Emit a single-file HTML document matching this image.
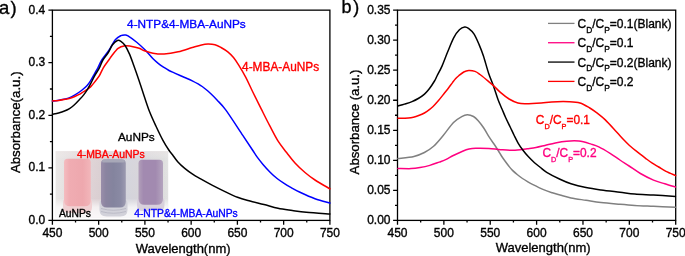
<!DOCTYPE html>
<html><head><meta charset="utf-8"><style>
html,body{margin:0;padding:0;background:#fff;}
body{width:685px;height:256px;overflow:hidden;}
svg{display:block;will-change:transform;}
text{font-family:"Liberation Sans",sans-serif;stroke-width:0.35px;stroke:#000;}
</style></head><body>
<svg width="685" height="256" viewBox="0 0 685 256">
<defs>
<filter id="blur1" x="-10%" y="-10%" width="120%" height="120%"><feGaussianBlur stdDeviation="0.55"/></filter>
<linearGradient id="bg" x1="55.6" y1="0" x2="168.2" y2="0" gradientUnits="userSpaceOnUse">
<stop offset="0" stop-color="#e8e6e4"/><stop offset="0.07" stop-color="#e4e0e0"/><stop offset="0.32" stop-color="#dccfd2"/><stop offset="0.39" stop-color="#d8cccf"/><stop offset="0.64" stop-color="#d2d2da"/><stop offset="0.72" stop-color="#d4d2d8"/><stop offset="0.96" stop-color="#dcdcdc"/><stop offset="1" stop-color="#e0e0e0"/>
</linearGradient>
<linearGradient id="bgv" x1="0" y1="151" x2="0" y2="217" gradientUnits="userSpaceOnUse">
<stop offset="0" stop-color="#f0e8e8" stop-opacity="0.5"/><stop offset="0.12" stop-color="#ffffff" stop-opacity="0.1"/><stop offset="0.72" stop-color="#ffffff" stop-opacity="0.05"/><stop offset="0.85" stop-color="#ffffff" stop-opacity="0.7"/><stop offset="1" stop-color="#ffffff" stop-opacity="0.85"/>
</linearGradient>
<linearGradient id="pink" x1="0" y1="0" x2="1" y2="0">
<stop offset="0" stop-color="#f4bcc0"/><stop offset="0.2" stop-color="#f0acb2"/><stop offset="0.7" stop-color="#eea8ae"/><stop offset="1" stop-color="#f2b6ba"/>
</linearGradient>
<linearGradient id="grayv" x1="0" y1="0" x2="1" y2="0">
<stop offset="0" stop-color="#9a8eaa"/><stop offset="0.2" stop-color="#8a84a0"/><stop offset="0.5" stop-color="#84849e"/><stop offset="0.8" stop-color="#8a8aa4"/><stop offset="1" stop-color="#9c9ab0"/>
</linearGradient>
<linearGradient id="purp" x1="0" y1="0" x2="1" y2="0">
<stop offset="0" stop-color="#b2a0ba"/><stop offset="0.2" stop-color="#a28ab0"/><stop offset="0.7" stop-color="#a28ab0"/><stop offset="1" stop-color="#b4a4be"/>
</linearGradient>
</defs>

<rect x="55.6" y="151.2" width="112.6" height="66" fill="url(#bg)"/>
<rect x="55.6" y="151.2" width="112.6" height="66" fill="url(#bgv)"/>
<g filter="url(#blur1)">
<path d="M63.00,202.00 Q63.00,199.00 66.00,199.00 H89.00 Q92.00,199.00 92.00,202.00 V207.00 Q92.00,213.00 86.00,213.00 H69.00 Q63.00,213.00 63.00,207.00 Z" fill="#f0d0d2"/>
<path d="M64.00,162.30 Q64.00,158.80 67.50,158.80 H87.30 Q90.80,158.80 90.80,162.30 V200.30 Q90.80,206.30 84.80,206.30 H70.00 Q64.00,206.30 64.00,200.30 Z" fill="url(#pink)"/>
<path d="M99.50,203.00 Q99.50,200.00 102.50,200.00 H124.50 Q127.50,200.00 127.50,203.00 V209.50 Q127.50,216.50 120.50,216.50 H106.50 Q99.50,216.50 99.50,209.50 Z" fill="#d2d2da"/>
<path d="M101,208.5 Q113.5,212 126,208.5 M101,211.5 Q113.5,215 126,211.5" stroke="#b8b8c4" stroke-width="0.9" fill="none"/>
<path d="M101.00,163.50 Q101.00,159.50 105.00,159.50 H121.80 Q125.80,159.50 125.80,163.50 V201.50 Q125.80,207.50 119.80,207.50 H107.00 Q101.00,207.50 101.00,201.50 Z" fill="url(#grayv)"/>
<rect x="102" y="159.5" width="22.8" height="3" rx="1.5" fill="#a8a8b8"/>
<path d="M137.00,201.00 Q137.00,198.00 140.00,198.00 H161.50 Q164.50,198.00 164.50,201.00 V205.00 Q164.50,211.00 158.50,211.00 H143.00 Q137.00,211.00 137.00,205.00 Z" fill="#d8d0dc"/>
<path d="M138.50,163.30 Q138.50,159.80 142.00,159.80 H159.50 Q163.00,159.80 163.00,163.30 V198.80 Q163.00,204.80 157.00,204.80 H144.50 Q138.50,204.80 138.50,198.80 Z" fill="url(#purp)"/>
</g>
<rect x="52.40" y="10.15" width="277.50" height="210.25" fill="none" stroke="#000" stroke-width="1.30"/>
<rect x="397.50" y="10.15" width="278.20" height="210.25" fill="none" stroke="#000" stroke-width="1.30"/>
<path d="M52.40,220.40v4.30M397.50,220.40v4.30M75.53,220.40v2.20M420.68,220.40v2.20M98.65,220.40v4.30M443.87,220.40v4.30M121.78,220.40v2.20M467.05,220.40v2.20M144.90,220.40v4.30M490.23,220.40v4.30M168.03,220.40v2.20M513.42,220.40v2.20M191.15,220.40v4.30M536.60,220.40v4.30M214.28,220.40v2.20M559.78,220.40v2.20M237.40,220.40v4.30M582.97,220.40v4.30M260.52,220.40v2.20M606.15,220.40v2.20M283.65,220.40v4.30M629.33,220.40v4.30M306.77,220.40v2.20M652.52,220.40v2.20M329.90,220.40v4.30M675.70,220.40v4.30M52.40,220.40h-4.00M52.40,194.12h-2.50M52.40,167.84h-4.00M52.40,141.56h-2.50M52.40,115.28h-4.00M52.40,88.99h-2.50M52.40,62.71h-4.00M52.40,36.43h-2.50M52.40,10.15h-4.00M397.50,220.40h-4.40M397.50,205.38h-2.50M397.50,190.36h-4.40M397.50,175.35h-2.50M397.50,160.33h-4.40M397.50,145.31h-2.50M397.50,130.29h-4.40M397.50,115.27h-2.50M397.50,100.26h-4.40M397.50,85.24h-2.50M397.50,70.22h-4.40M397.50,55.20h-2.50M397.50,40.19h-4.40M397.50,25.17h-2.50M397.50,10.15h-4.40" stroke="#000" stroke-width="1.30" fill="none"/>
<text x="45.3" y="224.00" font-size="12" text-anchor="end">0.0</text><text x="45.3" y="171.44" font-size="12" text-anchor="end">0.1</text><text x="45.3" y="118.88" font-size="12" text-anchor="end">0.2</text><text x="45.3" y="66.31" font-size="12" text-anchor="end">0.3</text><text x="45.3" y="13.75" font-size="12" text-anchor="end">0.4</text><text x="390.5" y="224.00" font-size="12" text-anchor="end">0.00</text><text x="390.5" y="193.96" font-size="12" text-anchor="end">0.05</text><text x="390.5" y="163.93" font-size="12" text-anchor="end">0.10</text><text x="390.5" y="133.89" font-size="12" text-anchor="end">0.15</text><text x="390.5" y="103.86" font-size="12" text-anchor="end">0.20</text><text x="390.5" y="73.82" font-size="12" text-anchor="end">0.25</text><text x="390.5" y="43.79" font-size="12" text-anchor="end">0.30</text><text x="390.5" y="13.75" font-size="12" text-anchor="end">0.35</text><text x="52.40" y="236.5" font-size="12" text-anchor="middle">450</text><text x="397.50" y="236.5" font-size="12" text-anchor="middle">450</text><text x="98.65" y="236.5" font-size="12" text-anchor="middle">500</text><text x="443.87" y="236.5" font-size="12" text-anchor="middle">500</text><text x="144.90" y="236.5" font-size="12" text-anchor="middle">550</text><text x="490.23" y="236.5" font-size="12" text-anchor="middle">550</text><text x="191.15" y="236.5" font-size="12" text-anchor="middle">600</text><text x="536.60" y="236.5" font-size="12" text-anchor="middle">600</text><text x="237.40" y="236.5" font-size="12" text-anchor="middle">650</text><text x="582.97" y="236.5" font-size="12" text-anchor="middle">650</text><text x="283.65" y="236.5" font-size="12" text-anchor="middle">700</text><text x="629.33" y="236.5" font-size="12" text-anchor="middle">700</text><text x="329.90" y="236.5" font-size="12" text-anchor="middle">750</text><text x="675.70" y="236.5" font-size="12" text-anchor="middle">750</text>
<text x="135.7" y="252.8" font-size="13">Wavelength(nm)</text>
<text x="495.7" y="252.4" font-size="13">Wavelength(nm)</text>
<text transform="translate(20.25,173.1) rotate(-90)" font-size="13.25">Absorbance(a.u.)</text>
<text transform="translate(359.25,174.4) rotate(-90)" font-size="13.2">Absorbance (a.u.)</text>
<text x="-0.9" y="14.1" font-size="18.5" letter-spacing="1.1">a)</text>
<text x="341.6" y="13.4" font-size="18" letter-spacing="1.6">b)</text>
<path d="M52.50,101.10 C53.75,100.92 57.35,100.50 60.00,100.00 C62.65,99.50 65.90,98.95 68.40,98.10 C70.90,97.25 72.82,96.17 75.00,94.90 C77.18,93.63 79.52,92.02 81.50,90.50 C83.48,88.98 85.35,87.50 86.90,85.80 C88.45,84.10 89.49,82.38 90.80,80.30 C92.11,78.22 93.57,75.38 94.75,73.30 C95.93,71.22 96.73,70.02 97.90,67.80 C99.08,65.58 99.98,62.88 101.80,60.00 C103.62,57.12 106.55,53.87 108.80,50.50 C111.05,47.13 113.28,42.28 115.30,39.80 C117.32,37.32 119.27,36.42 120.90,35.60 C122.53,34.78 123.92,34.85 125.10,34.90 C126.28,34.95 126.12,34.72 128.00,35.90 C129.88,37.08 133.53,39.65 136.40,42.00 C139.27,44.35 142.47,47.25 145.20,50.00 C147.93,52.75 150.58,56.23 152.80,58.50 C155.02,60.77 156.67,62.13 158.50,63.60 C160.33,65.07 162.05,66.15 163.80,67.30 C165.55,68.45 167.18,69.53 169.00,70.50 C170.82,71.47 172.18,71.97 174.70,73.10 C177.22,74.23 181.17,76.00 184.10,77.30 C187.03,78.60 189.28,79.37 192.30,80.90 C195.32,82.43 199.15,84.40 202.20,86.50 C205.25,88.60 208.13,91.25 210.60,93.50 C213.07,95.75 214.45,97.23 217.00,100.00 C219.55,102.77 221.60,104.20 225.90,110.10 C230.20,116.00 238.37,128.75 242.80,135.40 C247.23,142.05 250.07,146.33 252.50,150.00 C254.93,153.67 255.65,155.00 257.40,157.40 C259.15,159.80 260.88,161.93 263.00,164.40 C265.12,166.87 267.75,169.85 270.10,172.20 C272.45,174.55 274.77,176.63 277.10,178.50 C279.43,180.37 281.75,181.88 284.10,183.40 C286.45,184.92 288.55,186.12 291.20,187.60 C293.85,189.08 296.03,190.44 300.00,192.30 C303.97,194.16 310.02,196.97 315.00,198.75 C319.98,200.53 327.42,202.29 329.90,203.00" fill="none" stroke="#0000ff" stroke-width="1.50" stroke-linejoin="round" stroke-linecap="round"/>
<path d="M52.50,100.90 C53.52,100.82 56.50,100.67 58.60,100.40 C60.70,100.13 62.92,99.75 65.10,99.30 C67.28,98.85 69.52,98.43 71.70,97.70 C73.88,96.97 76.20,95.92 78.20,94.90 C80.20,93.88 82.23,92.48 83.70,91.60 C85.17,90.72 85.82,90.43 87.00,89.60 C88.18,88.77 89.51,87.88 90.80,86.60 C92.09,85.32 93.32,83.73 94.75,81.90 C96.18,80.07 97.98,77.95 99.40,75.60 C100.83,73.25 101.73,70.40 103.30,67.80 C104.87,65.20 107.38,62.00 108.80,60.00 C110.22,58.00 110.25,57.75 111.80,55.80 C113.35,53.85 115.88,49.97 118.10,48.30 C120.32,46.62 122.98,46.10 125.10,45.75 C127.22,45.40 128.45,45.78 130.80,46.20 C133.15,46.62 136.93,47.53 139.20,48.30 C141.47,49.07 142.12,49.98 144.40,50.80 C146.68,51.62 149.62,52.67 152.90,53.20 C156.18,53.73 159.88,54.23 164.10,54.00 C168.32,53.77 173.50,52.88 178.20,51.80 C182.90,50.72 188.42,48.65 192.30,47.50 C196.18,46.35 198.88,45.47 201.50,44.90 C204.12,44.33 205.75,44.12 208.00,44.10 C210.25,44.08 212.83,44.23 215.00,44.80 C217.17,45.37 218.87,46.32 221.00,47.50 C223.13,48.68 225.72,50.22 227.80,51.90 C229.88,53.58 231.68,55.38 233.50,57.60 C235.32,59.82 236.65,61.90 238.70,65.20 C240.75,68.50 243.45,72.93 245.80,77.40 C248.15,81.87 250.23,86.75 252.80,92.00 C255.37,97.25 258.38,103.28 261.20,108.90 C264.02,114.52 266.88,120.32 269.70,125.70 C272.52,131.08 275.28,136.73 278.10,141.20 C280.92,145.67 283.78,148.87 286.60,152.50 C289.42,156.13 291.93,159.67 295.00,163.00 C298.07,166.33 301.67,169.67 305.00,172.50 C308.33,175.33 310.85,177.29 315.00,180.00 C319.15,182.71 327.42,187.29 329.90,188.75" fill="none" stroke="#ff0000" stroke-width="1.50" stroke-linejoin="round" stroke-linecap="round"/>
<path d="M52.50,114.30 C53.52,114.08 56.50,113.58 58.60,113.00 C60.70,112.42 63.28,111.53 65.10,110.80 C66.92,110.07 68.03,109.52 69.50,108.60 C70.97,107.68 72.27,106.77 73.90,105.30 C75.53,103.83 77.67,101.53 79.30,99.80 C80.93,98.07 82.42,96.50 83.70,94.90 C84.98,93.30 85.82,92.12 87.00,90.20 C88.18,88.28 89.51,85.83 90.80,83.40 C92.09,80.97 93.32,78.20 94.75,75.60 C96.18,73.00 98.04,70.40 99.40,67.80 C100.76,65.20 101.42,62.55 102.90,60.00 C104.38,57.45 106.70,55.03 108.30,52.50 C109.90,49.97 110.98,46.80 112.50,44.80 C114.02,42.80 116.00,41.08 117.40,40.50 C118.80,39.92 119.62,40.47 120.90,41.30 C122.18,42.13 123.68,43.40 125.10,45.50 C126.52,47.60 127.98,50.65 129.40,53.90 C130.82,57.15 131.97,60.48 133.60,65.00 C135.23,69.52 137.33,75.50 139.20,81.00 C141.07,86.50 143.05,92.83 144.80,98.00 C146.55,103.17 147.85,107.33 149.70,112.00 C151.55,116.67 153.72,121.32 155.90,126.00 C158.08,130.68 160.65,136.10 162.80,140.10 C164.95,144.10 167.18,147.57 168.80,150.00 C170.42,152.43 171.02,152.75 172.50,154.70 C173.98,156.65 175.66,159.42 177.70,161.70 C179.74,163.98 182.27,166.32 184.75,168.40 C187.23,170.48 190.03,172.48 192.60,174.20 C195.17,175.92 196.88,176.83 200.20,178.70 C203.52,180.57 208.37,183.25 212.50,185.40 C216.63,187.55 220.83,189.62 225.00,191.60 C229.17,193.57 233.33,195.68 237.50,197.25 C241.67,198.82 245.58,199.79 250.00,201.00 C254.42,202.21 259.33,203.28 264.00,204.50 C268.67,205.72 273.28,207.30 278.00,208.30 C282.72,209.30 287.58,209.83 292.30,210.50 C297.02,211.17 300.03,211.72 306.30,212.30 C312.57,212.88 325.97,213.72 329.90,214.00" fill="none" stroke="#000000" stroke-width="1.50" stroke-linejoin="round" stroke-linecap="round"/>
<path d="M398.00,158.60 C400.65,158.23 409.50,157.42 413.90,156.40 C418.30,155.38 421.12,154.18 424.40,152.50 C427.68,150.82 430.50,149.08 433.60,146.30 C436.70,143.52 439.68,139.77 443.00,135.80 C446.32,131.83 450.38,125.68 453.50,122.50 C456.62,119.32 459.40,117.98 461.70,116.70 C464.00,115.42 465.33,114.83 467.30,114.80 C469.27,114.77 471.72,115.55 473.50,116.50 C475.28,117.45 476.29,118.58 478.00,120.50 C479.71,122.42 481.85,125.18 483.75,128.00 C485.65,130.82 487.52,134.48 489.40,137.40 C491.27,140.32 493.48,143.23 495.00,145.50 C496.52,147.77 497.42,149.25 498.50,151.00 C499.58,152.75 500.42,154.33 501.50,156.00 C502.58,157.67 503.79,159.33 505.00,161.00 C506.21,162.67 507.50,164.43 508.75,166.00 C510.00,167.57 511.04,168.94 512.50,170.40 C513.96,171.86 515.83,173.40 517.50,174.75 C519.17,176.10 520.83,177.36 522.50,178.50 C524.17,179.64 525.92,180.67 527.50,181.60 C529.08,182.53 529.43,182.80 532.00,184.10 C534.57,185.40 539.52,187.95 542.90,189.40 C546.28,190.85 549.45,191.87 552.30,192.80 C555.15,193.73 556.88,194.15 560.00,195.00 C563.12,195.85 566.67,197.02 571.00,197.90 C575.33,198.78 581.00,199.52 586.00,200.30 C591.00,201.08 595.33,201.93 601.00,202.60 C606.67,203.27 614.37,203.83 620.00,204.30 C625.63,204.77 629.22,205.07 634.80,205.40 C640.38,205.73 646.73,205.98 653.50,206.30 C660.27,206.62 671.75,207.13 675.40,207.30" fill="none" stroke="#808080" stroke-width="1.50" stroke-linejoin="round" stroke-linecap="round"/>
<path d="M398.00,168.40 C400.18,168.43 407.43,168.73 411.10,168.60 C414.77,168.47 416.88,168.13 420.00,167.60 C423.12,167.07 426.60,166.32 429.80,165.40 C433.00,164.48 436.47,163.10 439.20,162.10 C441.93,161.10 443.85,160.50 446.20,159.40 C448.55,158.30 450.57,156.87 453.30,155.50 C456.03,154.13 459.98,152.28 462.60,151.20 C465.22,150.12 466.82,149.50 469.00,149.00 C471.18,148.50 472.40,148.30 475.70,148.20 C479.00,148.10 484.65,148.15 488.80,148.40 C492.95,148.65 496.55,149.38 500.60,149.70 C504.65,150.02 508.67,150.47 513.10,150.30 C517.53,150.13 523.38,149.17 527.20,148.70 C531.02,148.23 533.03,148.05 536.00,147.50 C538.97,146.95 541.78,146.17 545.00,145.40 C548.22,144.63 551.68,143.60 555.30,142.90 C558.92,142.20 562.77,141.50 566.70,141.20 C570.63,140.90 574.82,140.62 578.90,141.10 C582.98,141.58 587.88,143.15 591.20,144.10 C594.52,145.05 595.65,145.27 598.80,146.80 C601.95,148.33 606.58,151.10 610.10,153.30 C613.62,155.50 616.73,157.88 619.90,160.00 C623.07,162.12 625.68,163.75 629.10,166.00 C632.52,168.25 636.33,171.15 640.40,173.50 C644.47,175.85 649.43,178.38 653.50,180.10 C657.57,181.82 661.15,182.65 664.80,183.80 C668.45,184.95 673.63,186.47 675.40,187.00" fill="none" stroke="#ff0080" stroke-width="1.50" stroke-linejoin="round" stroke-linecap="round"/>
<path d="M398.00,106.00 C399.08,105.68 402.17,104.83 404.50,104.10 C406.83,103.37 409.71,102.53 412.00,101.60 C414.29,100.67 416.17,99.75 418.25,98.50 C420.33,97.25 422.62,95.77 424.50,94.10 C426.38,92.43 427.83,90.68 429.50,88.50 C431.17,86.32 433.25,83.08 434.50,81.00 C435.75,78.92 435.75,78.48 437.00,76.00 C438.25,73.52 440.23,70.10 442.00,66.10 C443.77,62.10 445.63,56.75 447.60,52.00 C449.57,47.25 451.83,41.30 453.80,37.60 C455.77,33.90 457.58,31.57 459.40,29.80 C461.22,28.03 463.18,27.23 464.70,27.00 C466.22,26.77 466.93,27.22 468.50,28.40 C470.07,29.58 472.33,31.40 474.10,34.10 C475.87,36.80 477.54,40.95 479.10,44.60 C480.66,48.25 481.87,51.23 483.45,56.00 C485.03,60.77 486.88,68.05 488.60,73.20 C490.33,78.35 492.23,82.52 493.80,86.90 C495.37,91.28 496.63,95.82 498.00,99.50 C499.37,103.18 500.73,106.00 502.00,109.00 C503.27,112.00 504.22,114.46 505.60,117.50 C506.98,120.54 508.87,124.25 510.30,127.25 C511.73,130.25 512.88,132.82 514.20,135.50 C515.53,138.18 516.85,140.93 518.25,143.30 C519.65,145.68 520.93,147.53 522.60,149.75 C524.27,151.97 526.27,154.44 528.25,156.60 C530.23,158.76 532.52,160.92 534.50,162.70 C536.48,164.47 538.07,165.65 540.10,167.25 C542.13,168.85 543.38,170.29 546.70,172.30 C550.02,174.31 555.95,177.38 560.00,179.30 C564.05,181.22 566.67,182.42 571.00,183.80 C575.33,185.18 581.00,186.57 586.00,187.60 C591.00,188.63 595.33,189.22 601.00,190.00 C606.67,190.78 614.37,191.62 620.00,192.30 C625.63,192.98 629.22,193.63 634.80,194.10 C640.38,194.57 646.73,194.72 653.50,195.10 C660.27,195.48 671.75,196.18 675.40,196.40" fill="none" stroke="#000000" stroke-width="1.50" stroke-linejoin="round" stroke-linecap="round"/>
<path d="M398.00,118.30 C399.17,118.28 402.85,118.30 405.00,118.20 C407.15,118.10 409.07,117.98 410.90,117.70 C412.73,117.42 414.17,117.07 416.00,116.50 C417.83,115.93 420.07,115.17 421.90,114.30 C423.73,113.43 425.18,112.57 427.00,111.30 C428.82,110.03 430.88,108.50 432.80,106.70 C434.72,104.90 436.55,102.78 438.50,100.50 C440.45,98.22 442.83,95.08 444.50,93.00 C446.17,90.92 447.17,89.73 448.50,88.00 C449.83,86.27 451.33,84.13 452.50,82.60 C453.67,81.07 454.46,79.94 455.50,78.80 C456.54,77.66 457.38,76.88 458.75,75.75 C460.12,74.62 462.08,72.88 463.75,72.00 C465.42,71.12 466.88,70.60 468.75,70.50 C470.62,70.40 473.12,70.73 475.00,71.40 C476.88,72.07 477.95,73.00 480.00,74.50 C482.05,76.00 485.00,78.50 487.30,80.40 C489.60,82.30 491.62,83.90 493.80,85.90 C495.98,87.90 497.85,90.22 500.40,92.40 C502.95,94.58 506.18,97.23 509.10,99.00 C512.02,100.77 515.23,102.20 517.90,103.00 C520.57,103.80 521.22,103.78 525.10,103.80 C528.98,103.82 536.80,103.42 541.20,103.10 C545.60,102.78 546.82,102.13 551.50,101.90 C556.18,101.67 564.55,101.52 569.30,101.70 C574.05,101.88 576.58,101.95 580.00,103.00 C583.42,104.05 586.98,106.35 589.80,108.00 C592.62,109.65 594.32,110.92 596.90,112.90 C599.48,114.88 602.02,116.72 605.30,119.90 C608.58,123.08 613.45,128.60 616.60,132.00 C619.75,135.40 622.10,138.10 624.20,140.30 C626.30,142.50 627.07,143.30 629.20,145.20 C631.33,147.10 634.27,149.52 637.00,151.70 C639.73,153.88 643.05,156.38 645.60,158.30 C648.15,160.22 650.12,161.75 652.30,163.20 C654.48,164.65 656.42,165.63 658.70,167.00 C660.98,168.37 663.18,169.97 666.00,171.40 C668.82,172.83 674.00,174.90 675.60,175.60" fill="none" stroke="#ff0000" stroke-width="1.50" stroke-linejoin="round" stroke-linecap="round"/>
<text x="127.1" y="28.3" font-size="11.8" style="fill:#0000ff;stroke:#0000ff">4-NTP&amp;4-MBA-AuNPs</text>
<text x="242.1" y="70.7" font-size="11.85" style="fill:#ff0000;stroke:#ff0000">4-MBA-AuNPs</text>
<text x="118" y="141.1" font-size="11.8" style="fill:#000;stroke:#000">AuNPs</text>
<text x="76.9" y="157.6" font-size="10.45" style="fill:#ff0000;stroke:#ff0000">4-MBA-AuNPs</text>
<text x="58.9" y="216.7" font-size="10.3" style="fill:#000;stroke:#000">AuNPs</text>
<text x="134.2" y="216.7" font-size="10.3" style="fill:#0000ff;stroke:#0000ff">4-NTP&amp;4-MBA-AuNPs</text>
<text x="535.80" y="123.80" font-size="11.9" style="fill:#ff0000;stroke:#ff0000">C<tspan font-size="7.3" dy="4.9">D</tspan><tspan dy="-4.9">/C</tspan><tspan font-size="7.3" dy="4.9">P</tspan><tspan dy="-4.9">=0.1</tspan></text>
<text x="542.40" y="156.90" font-size="11.9" style="fill:#ff0080;stroke:#ff0080">C<tspan font-size="7.3" dy="4.9">D</tspan><tspan dy="-4.9">/C</tspan><tspan font-size="7.3" dy="4.9">P</tspan><tspan dy="-4.9">=0.2</tspan></text>
<path d="M548,23.40H574.5" stroke="#808080" stroke-width="1.3"/>
<text x="577.50" y="27.90" font-size="12" style="fill:#000;stroke:#000">C<tspan font-size="8.4" dy="4.6">D</tspan><tspan dy="-4.6">/C</tspan><tspan font-size="8.4" dy="4.6">P</tspan><tspan dy="-4.6">=0.1(Blank)</tspan></text>
<path d="M548,42.73H574.5" stroke="#ff0080" stroke-width="1.3"/>
<text x="577.50" y="47.23" font-size="12" style="fill:#000;stroke:#000">C<tspan font-size="8.4" dy="4.6">D</tspan><tspan dy="-4.6">/C</tspan><tspan font-size="8.4" dy="4.6">P</tspan><tspan dy="-4.6">=0.1</tspan></text>
<path d="M548,62.07H574.5" stroke="#000000" stroke-width="1.3"/>
<text x="577.50" y="66.57" font-size="12" style="fill:#000;stroke:#000">C<tspan font-size="8.4" dy="4.6">D</tspan><tspan dy="-4.6">/C</tspan><tspan font-size="8.4" dy="4.6">P</tspan><tspan dy="-4.6">=0.2(Blank)</tspan></text>
<path d="M548,81.40H574.5" stroke="#ff0000" stroke-width="1.3"/>
<text x="577.50" y="85.90" font-size="12" style="fill:#000;stroke:#000">C<tspan font-size="8.4" dy="4.6">D</tspan><tspan dy="-4.6">/C</tspan><tspan font-size="8.4" dy="4.6">P</tspan><tspan dy="-4.6">=0.2</tspan></text>
</svg></body></html>
